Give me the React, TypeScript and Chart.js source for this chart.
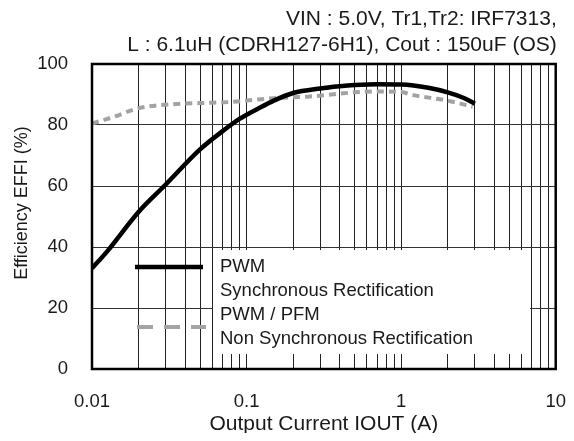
import React, { useEffect, useRef } from 'react';
import { Chart, registerables } from 'chart.js';

Chart.register(...registerables);

const titleLines = ['VIN : 5.0V, Tr1,Tr2: IRF7313,', 'L : 6.1uH (CDRH127-6H1), Cout : 150uF (OS)'];
const xAxisTitle = 'Output Current IOUT (A)';
const yAxisTitle = 'Efficiency EFFI (%)';
const xMajorTicks = [0.01, 0.1, 1, 10];
const xTickLabels = ['0.01', '0.1', '1', '10'];
const yMin = 0;
const yMax = 100;
const yStep = 20;

const pwmCurrent = [0.01, 0.0125, 0.02, 0.03, 0.05, 0.07, 0.09, 0.12, 0.15, 0.2, 0.3, 0.4, 0.5, 0.7, 1.0, 1.5, 2.0, 2.5, 3.0];
const pwmEfficiency = [33, 38.5, 51.5, 60.5, 72, 78, 82, 85.5, 88, 90.5, 92, 92.7, 93.1, 93.4, 93.3, 92.2, 90.7, 89, 87];
const pfmCurrent = [0.01, 0.0137, 0.02, 0.035, 0.05, 0.075, 0.1, 0.15, 0.25, 0.5, 0.7, 1.0, 1.2, 2.0, 2.9];
const pfmEfficiency = [80.5, 82.6, 85.5, 86.9, 87.2, 87.5, 88, 88.8, 89.3, 90.7, 91, 90.8, 89.8, 88, 86];

const seriesNames = ['PWM', 'PWM / PFM'];
const seriesNotes = ['Synchronous Rectification', 'Non Synchronous Rectification'];

const FONT_FAMILY = '"Liberation Sans", Arial, sans-serif';
const TEXT_COLOR = '#1a1a1a';

const overlayPlugin = {
  id: 'overlay',
  afterDatasetsDraw(chart: any) {
    const { ctx, chartArea } = chart;
    const { left, top, right, bottom } = chartArea;
    ctx.save();
    // legend box
    ctx.fillStyle = '#ffffff';
    ctx.fillRect(left + 121, top + 186, 317, 104);
    const sampleRows = [
      { y: top + 203, x0: left + 43, x1: left + 111 },
      { y: top + 263, x0: left + 45, x1: left + 114 },
    ];
    chart.data.datasets.forEach((ds: any, i: number) => {
      const r = sampleRows[i];
      ctx.beginPath();
      ctx.strokeStyle = ds.borderColor;
      ctx.lineWidth = ds.borderWidth;
      ctx.lineCap = 'butt';
      ctx.setLineDash(i === 1 ? [16, 11] : []);
      ctx.moveTo(r.x0, r.y);
      ctx.lineTo(r.x1, r.y);
      ctx.stroke();
    });
    ctx.setLineDash([]);
    ctx.fillStyle = TEXT_COLOR;
    ctx.font = `18.5px ${FONT_FAMILY}`;
    ctx.textAlign = 'left';
    ctx.textBaseline = 'middle';
    const lines = [seriesNames[0], seriesNotes[0], seriesNames[1], seriesNotes[1]];
    lines.forEach((t, i) => {
      ctx.fillText(t, left + 128, top + 203 + i * 24);
    });
    // frame
    ctx.strokeStyle = '#000';
    ctx.lineWidth = 2.5;
    ctx.strokeRect(left, top, right - left, bottom - top);
    // header
    ctx.textAlign = 'right';
    ctx.font = `21px ${FONT_FAMILY}`;
    ctx.fillText(titleLines[0], right + 1, 11);
    ctx.fillText(titleLines[1], right + 1, 37);
    // y axis title
    ctx.font = `18px ${FONT_FAMILY}`;
    ctx.textAlign = 'center';
    ctx.translate(14, top + 139);
    ctx.rotate(-Math.PI / 2);
    ctx.fillText(yAxisTitle, 0, 0);
    ctx.restore();
  },
};

export default function App() {
  const canvasRef = useRef<HTMLCanvasElement | null>(null);

  useEffect(() => {
    if (!canvasRef.current) return;
    const chart = new Chart(canvasRef.current, {
      type: 'line',
      data: {
        datasets: [
          {
            label: seriesNames[0],
            data: pwmCurrent.map((x, i) => ({ x, y: pwmEfficiency[i] })),
            borderColor: '#000000',
            borderWidth: 4.5,
            pointRadius: 0,
            cubicInterpolationMode: 'monotone',
            fill: false,
          },
          {
            label: seriesNames[1],
            data: pfmCurrent.map((x, i) => ({ x, y: pfmEfficiency[i] })),
            borderColor: '#a3a3a3',
            borderWidth: 4,
            borderDash: [7, 5],
            pointRadius: 0,
            cubicInterpolationMode: 'monotone',
            fill: false,
          },
        ],
      },
      options: {
        animation: false,
        responsive: true,
        maintainAspectRatio: false,
        layout: { padding: { top: 56, right: 9, left: 0, bottom: 0 } },
        plugins: {
          legend: { display: false },
          title: { display: false },
          tooltip: { enabled: false },
        },
        scales: {
          x: {
            type: 'logarithmic',
            min: xMajorTicks[0],
            max: xMajorTicks[xMajorTicks.length - 1],
            afterBuildTicks: (scale: any) => {
              const ticks: any[] = [];
              for (let d = 0; d < xMajorTicks.length - 1; d++) {
                for (let m = 1; m <= 9; m++) {
                  ticks.push({ value: +(xMajorTicks[d] * m).toPrecision(6) });
                }
              }
              ticks.push({ value: xMajorTicks[xMajorTicks.length - 1] });
              scale.ticks = ticks;
            },
            afterFit: (scale: any) => {
              scale.height = 64;
            },
            ticks: {
              autoSkip: false,
              maxRotation: 0,
              padding: 0,
              color: TEXT_COLOR,
              font: { family: FONT_FAMILY, size: 18.5 },
              callback: (v: any) => {
                const idx = xMajorTicks.findIndex((m) => Math.abs(m - Number(v)) < m * 1e-6);
                return idx >= 0 ? xTickLabels[idx] : '';
              },
            },
            grid: { color: '#222', lineWidth: 1, drawTicks: true, tickLength: 22, tickColor: 'rgba(0,0,0,0)' },
            border: { display: false },
            title: {
              display: true,
              text: xAxisTitle,
              color: TEXT_COLOR,
              font: { family: FONT_FAMILY, size: 21, lineHeight: 0.8 },
              padding: { top: 0, bottom: 0 },
            },
          },
          y: {
            type: 'linear',
            min: yMin,
            max: yMax,
            afterFit: (scale: any) => {
              scale.width = 84;
            },
            ticks: {
              stepSize: yStep,
              padding: 0,
              color: TEXT_COLOR,
              font: { family: FONT_FAMILY, size: 18.5 },
            },
            grid: { color: '#333', lineWidth: 1, drawTicks: true, tickLength: 24, tickColor: 'rgba(0,0,0,0)' },
            border: { display: false },
            title: { display: false },
          },
        },
      },
      plugins: [overlayPlugin],
    } as any);
    return () => chart.destroy();
  }, []);

  return (
    <div style={{ position: 'relative', width: 558, height: 425 }}>
      <canvas ref={canvasRef} />
    </div>
  );
}
